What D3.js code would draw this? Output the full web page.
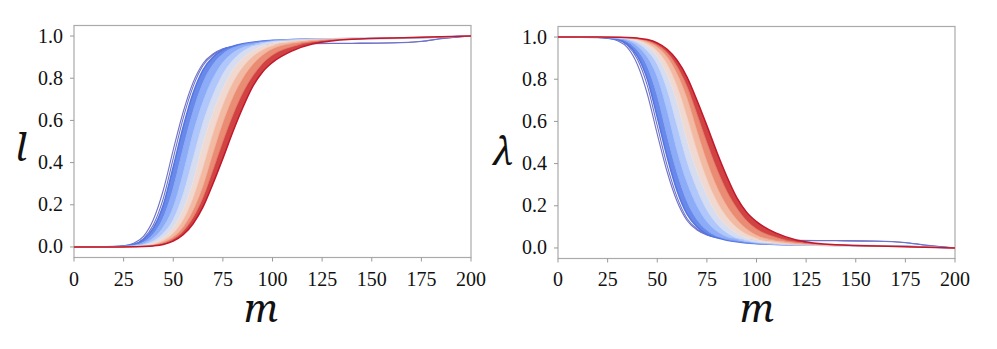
<!DOCTYPE html>
<html>
<head>
<meta charset="utf-8">
<script src="https://cdn.jsdelivr.net/npm/d3@7"></script>
<style>
  body { margin: 0; background: #fff; }
</style>
</head>
<body>
<svg id="chart"></svg>
<script>
// m values for the fan curves and for the two odd curves
var mGrid = [0, 20, 30, 35, 40, 45, 50, 55, 60, 65, 70, 75, 80, 85, 90, 95, 100, 110, 120, 140, 170, 200];
var mOut  = [0, 20, 25, 30, 35, 40, 45, 50, 55, 60, 65, 70, 75, 80, 90, 100, 120, 140, 160, 175, 185, 200];

// left panel, l(m): blue (first) to red (last)
var lFan = [
  [0, 0.002, 0.012, 0.035, 0.09, 0.2, 0.38, 0.57, 0.73, 0.84, 0.9, 0.935, 0.952, 0.963, 0.971, 0.977, 0.98, 0.984, 0.986, 0.988, 0.991, 1],
  [0, 0.001, 0.008, 0.022, 0.062, 0.14, 0.28, 0.47, 0.645, 0.78, 0.865, 0.915, 0.944, 0.96, 0.968, 0.975, 0.979, 0.984, 0.986, 0.988, 0.991, 1],
  [0, 0.001, 0.006, 0.015, 0.042, 0.095, 0.19, 0.35, 0.54, 0.69, 0.8, 0.875, 0.92, 0.946, 0.96, 0.97, 0.977, 0.983, 0.986, 0.988, 0.991, 1],
  [0, 0.001, 0.004, 0.01, 0.028, 0.065, 0.13, 0.25, 0.42, 0.59, 0.72, 0.82, 0.885, 0.927, 0.952, 0.965, 0.974, 0.982, 0.986, 0.988, 0.992, 1],
  [0, 0, 0.003, 0.007, 0.019, 0.045, 0.092, 0.178, 0.31, 0.49, 0.635, 0.75, 0.84, 0.895, 0.93, 0.953, 0.966, 0.979, 0.985, 0.988, 0.992, 1],
  [0, 0, 0.002, 0.005, 0.013, 0.032, 0.066, 0.13, 0.235, 0.38, 0.54, 0.675, 0.78, 0.853, 0.903, 0.935, 0.955, 0.974, 0.983, 0.988, 0.992, 1],
  [0, 0, 0.001, 0.004, 0.01, 0.023, 0.048, 0.095, 0.175, 0.29, 0.445, 0.59, 0.71, 0.8, 0.865, 0.91, 0.94, 0.965, 0.978, 0.987, 0.992, 1],
  [0, 0, 0.001, 0.003, 0.007, 0.017, 0.038, 0.075, 0.14, 0.235, 0.365, 0.5, 0.625, 0.73, 0.81, 0.87, 0.91, 0.95, 0.972, 0.986, 0.993, 1],
  [0, 0, 0.001, 0.002, 0.005, 0.012, 0.028, 0.058, 0.11, 0.19, 0.3, 0.42, 0.545, 0.66, 0.76, 0.83, 0.875, 0.93, 0.962, 0.985, 0.993, 1]
];
var lOut = [
  [0, 0.002, 0.005, 0.017, 0.05, 0.13, 0.27, 0.46, 0.64, 0.78, 0.87, 0.915, 0.94, 0.95, 0.958, 0.962, 0.965, 0.966, 0.968, 0.975, 0.988, 1],
  [0, 0.001, 0.004, 0.012, 0.04, 0.105, 0.23, 0.42, 0.61, 0.76, 0.86, 0.91, 0.937, 0.95, 0.958, 0.962, 0.964, 0.965, 0.967, 0.974, 0.987, 1]
];

// right panel, lambda(m)
var lamFan = [
  [1, 0.998, 0.988, 0.965, 0.91, 0.8, 0.62, 0.43, 0.27, 0.16, 0.1, 0.065, 0.048, 0.037, 0.029, 0.023, 0.02, 0.016, 0.014, 0.012, 0.009, 0],
  [1, 0.999, 0.992, 0.978, 0.938, 0.86, 0.72, 0.53, 0.355, 0.22, 0.135, 0.085, 0.056, 0.04, 0.032, 0.025, 0.021, 0.016, 0.014, 0.012, 0.009, 0],
  [1, 0.999, 0.994, 0.985, 0.958, 0.905, 0.81, 0.65, 0.46, 0.31, 0.2, 0.125, 0.08, 0.054, 0.04, 0.03, 0.023, 0.017, 0.014, 0.012, 0.009, 0],
  [1, 0.999, 0.996, 0.99, 0.972, 0.935, 0.87, 0.75, 0.58, 0.41, 0.28, 0.18, 0.115, 0.073, 0.048, 0.035, 0.026, 0.018, 0.014, 0.012, 0.008, 0],
  [1, 1, 0.997, 0.993, 0.981, 0.955, 0.908, 0.822, 0.69, 0.51, 0.365, 0.25, 0.16, 0.105, 0.07, 0.047, 0.034, 0.021, 0.015, 0.012, 0.008, 0],
  [1, 1, 0.998, 0.995, 0.987, 0.968, 0.934, 0.87, 0.765, 0.62, 0.46, 0.325, 0.22, 0.147, 0.097, 0.065, 0.045, 0.026, 0.017, 0.012, 0.008, 0],
  [1, 1, 0.999, 0.996, 0.99, 0.977, 0.952, 0.905, 0.825, 0.71, 0.555, 0.41, 0.29, 0.2, 0.135, 0.09, 0.06, 0.035, 0.022, 0.013, 0.008, 0],
  [1, 1, 0.999, 0.997, 0.993, 0.983, 0.962, 0.925, 0.86, 0.765, 0.635, 0.5, 0.375, 0.27, 0.19, 0.13, 0.09, 0.05, 0.028, 0.014, 0.007, 0],
  [1, 1, 0.999, 0.998, 0.995, 0.988, 0.972, 0.942, 0.89, 0.81, 0.7, 0.58, 0.455, 0.34, 0.24, 0.17, 0.125, 0.07, 0.038, 0.015, 0.007, 0]
];
var lamOut = [
  [1, 0.998, 0.995, 0.983, 0.95, 0.87, 0.73, 0.54, 0.36, 0.22, 0.13, 0.085, 0.062, 0.05, 0.042, 0.038, 0.035, 0.034, 0.032, 0.025, 0.013, 0],
  [1, 0.999, 0.996, 0.988, 0.96, 0.895, 0.77, 0.58, 0.39, 0.24, 0.14, 0.09, 0.064, 0.051, 0.042, 0.038, 0.036, 0.035, 0.033, 0.026, 0.014, 0]
];

var xTicks = [0, 25, 50, 75, 100, 125, 150, 175, 200];
var yTicks = [0, 0.2, 0.4, 0.6, 0.8, 1.0];
var fanStops = ["#5575e0", "#7d9ef5", "#9dbafc", "#c3d5fb", "#ece7e7", "#f5cdbb", "#f3a88c", "#e2705a", "#c0182c"];
var outColor = "#7072c8";

var svg = d3.select("#chart").attr("width", 997).attr("height", 349);
var fanColor = d3.interpolateRgbBasis(fanStops);

function plotPanel(box, fan, out, yName, labelPos, mPos) {
  var x = d3.scaleLinear().domain([0, 200]).range([box.left, box.right]);
  var y = d3.scaleLinear().domain([-0.05, 1.05]).range([box.bottom, box.top]);
  var g = svg.append("g");

  // frame
  g.append("rect")
    .attr("x", box.left).attr("y", box.top)
    .attr("width", box.right - box.left).attr("height", box.bottom - box.top)
    .attr("fill", "none").attr("stroke", "#aaa").attr("stroke-width", 1.2);

  // ticks
  g.selectAll(".yt").data(yTicks).enter().append("line")
    .attr("x1", box.left - 4).attr("x2", box.left)
    .attr("y1", d => y(d)).attr("y2", d => y(d))
    .attr("stroke", "#999");
  g.selectAll(".yl").data(yTicks).enter().append("text")
    .attr("x", box.left - 11).attr("y", d => y(d) + 6.5)
    .attr("text-anchor", "end")
    .style("font-family", "Liberation Serif").style("font-size", "20px").style("fill", "#111")
    .text(d => d3.format(".1f")(d));
  g.selectAll(".xt").data(xTicks).enter().append("line")
    .attr("x1", d => x(d)).attr("x2", d => x(d))
    .attr("y1", box.bottom).attr("y2", box.bottom + 4)
    .attr("stroke", "#999");
  g.selectAll(".xl").data(xTicks).enter().append("text")
    .attr("x", d => x(d)).attr("y", 286)
    .attr("text-anchor", "middle")
    .style("font-family", "Liberation Serif").style("font-size", "20px").style("fill", "#111")
    .text(d => d);

  // odd curves go underneath the fan
  var outLine = d3.line().x((d, i) => x(mOut[i])).y(d => y(d)).curve(d3.curveMonotoneX);
  g.selectAll(".out").data(out).enter().append("path")
    .attr("d", outLine).attr("fill", "none")
    .attr("stroke", outColor).attr("stroke-width", 1.1);

  var n = fan.length - 1;
  var bands = d3.range(n).map(k => mGrid.map((m, i) => ({m: m, a: fan[k][i], b: fan[k + 1][i]})));
  var band = d3.area().x(d => x(d.m)).y0(d => y(d.a)).y1(d => y(d.b)).curve(d3.curveMonotoneX);
  g.selectAll(".band").data(bands).enter().append("path")
    .attr("d", band)
    .attr("fill", (d, k) => fanColor((k + 0.5) / n))
    .attr("stroke", "none");

  var fanLine = d3.line().x((d, i) => x(mGrid[i])).y(d => y(d)).curve(d3.curveMonotoneX);
  g.selectAll(".fan").data(fan).enter().append("path")
    .attr("d", fanLine).attr("fill", "none")
    .attr("stroke", (d, k) => fanColor(k / n))
    .attr("stroke-width", (d, k) => (k == 0 || k == n) ? 1.5 : 0.7);

  // axis names
  g.append("text").attr("x", labelPos[0]).attr("y", labelPos[1])
    .attr("text-anchor", "middle")
    .style("font-family", "Noto Serif").style("font-style", "italic")
    .style("font-size", "38px").style("fill", "#111")
    .text(yName);
  g.append("text").attr("x", mPos).attr("y", 322)
    .attr("text-anchor", "middle")
    .style("font-family", "Noto Serif").style("font-style", "italic")
    .style("font-size", "38px").style("fill", "#111")
    .text("m");
}

plotPanel({left: 74, right: 471, top: 25.5, bottom: 257.5}, lFan, lOut, "l", [21, 161], 261);
plotPanel({left: 558, right: 955, top: 26.5, bottom: 258.5}, lamFan, lamOut, "λ", [503, 165], 757);
</script>
</body>
</html>
